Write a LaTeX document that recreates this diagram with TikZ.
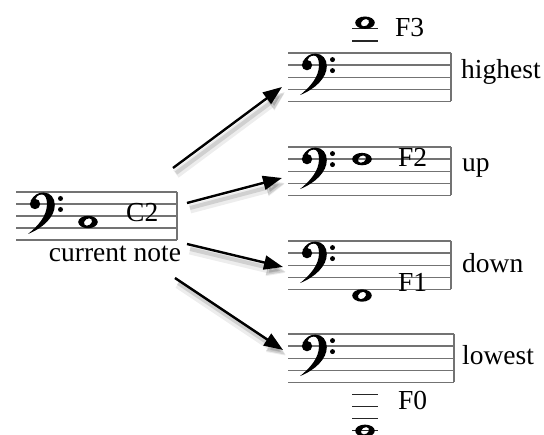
\documentclass[tikz,border=0pt]{standalone}
\usepackage{fontspec}
\setmainfont{Liberation Serif}
\usetikzlibrary{arrows.meta}
\begin{document}
\begin{tikzpicture}[
    x=1pt, y=-1pt,
    >={Triangle[length=19pt,width=14pt]},
    every node/.style={font=\fontsize{27.5}{30}\selectfont, inner sep=0pt},
    staffline/.style={draw=black!55, line width=1.2pt},
    ledger/.style={draw=black!85, line width=1.4pt},
    shadowed/.style={
        preaction={draw=black, opacity=0.07, line width=9pt,
            transform canvas={shift={(3pt,-6pt)}}},
        preaction={draw=black, opacity=0.12, line width=4pt,
            transform canvas={shift={(3pt,-5pt)}}}
    },
    arr/.style={->, line width=2.4pt, shadowed},
    pics/bassclef/.style={code={
        \fill (-4.5,-3) .. controls (-1,-9) and (3,-11.5) .. (8.5,-11.5)
            .. controls (15.5,-11.5) and (19.8,-6) .. (19.8,1)
            .. controls (19.8,13) and (8,24) .. (-7,30)
            .. controls (3,22) and (12,12) .. (12,0)
            .. controls (12,-6) and (10,-9.5) .. (7,-9.5)
            .. controls (3,-9.5) and (1,-7) .. (0,-4.5) -- cycle;
        \fill (0,0) circle (5.2);
        \fill (25.5,-5.5) circle (2.5);
        \fill (25.5,5.5) circle (2.5);
    }},
    pics/wholenote/.style={code={
        \fill[even odd rule] (0,0) ellipse [x radius=9.8, y radius=6.2]
            (0,0) ellipse [x radius=4.4, y radius=3.3, rotate=35];
    }}
]
    \useasboundingbox (0,0) rectangle (544,435);

    % current staff
    \foreach \k in {0,...,4}
        \draw[staffline] (16,192+\k*12) -- (177,192+\k*12);
    \draw[staffline] (177,192) -- (177,240);
    \pic at (35,204) {bassclef};
    \pic at (88,222) {wholenote};
    \node[anchor=base west] (c2) at (126,222) {C2};
    \node[anchor=base] (current) at (115,262) {current note};

    % target staves
    \foreach \top/\right in {53/451, 147/451, 241/451, 334/454} {
        \foreach \k in {0,...,4}
            \draw[staffline] (288,\top+\k*12.1) -- (\right,\top+\k*12.1);
        \draw[staffline] (\right,\top) -- (\right,\top+48.4);
        \pic at (307,\top+12.1) {bassclef};
    }

    % target notes
    \draw[ledger] (352,40.9) -- (378,40.9) (352,28.8) -- (378,28.8);
    \pic at (365,22.7) {wholenote};
    \node[anchor=base west] (f3) at (395,37) {F3};
    \pic at (362,159.1) {wholenote};
    \node[anchor=base west] (f2) at (398,167) {F2};
    \pic at (362,295.5) {wholenote};
    \node[anchor=base west] (f1) at (398,292) {F1};
    \foreach \y in {394.5,406.6,418.7,430.8}
        \draw[ledger] (352,\y) -- (378,\y);
    \pic at (365,430.8) {wholenote};
    \node[anchor=base west] (f0) at (398,410) {F0};

    % labels
    \node[anchor=base west] (highest) at (461,79) {highest};
    \node[anchor=base west] (up) at (462,172) {up};
    \node[anchor=base west] (down) at (462,273) {down};
    \node[anchor=base west] (lowest) at (462,365) {lowest};

    % moves
    \coordinate (s1) at (173,168); \coordinate (t1) at (282,87);
    \coordinate (s2) at (187,203); \coordinate (t2) at (282,178);
    \coordinate (s3) at (187,244); \coordinate (t3) at (283,267);
    \coordinate (s4) at (175,278); \coordinate (t4) at (283,350);
    \foreach \i in {1,...,4}
        \draw[arr] (s\i) -- (t\i);

\end{tikzpicture}
\end{document}
